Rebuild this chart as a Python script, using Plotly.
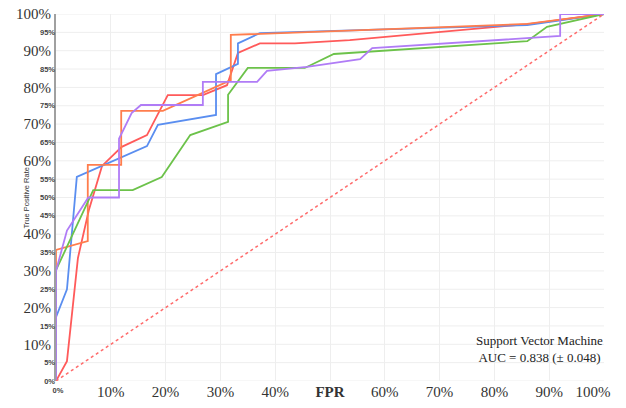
import plotly.graph_objects as go

# ---- data ----
blue_fpr = [0, 0, 0.020, 0.038, 0.166, 0.186, 0.292, 0.292, 0.332, 0.332, 0.372, 0.86, 1]
blue_tpr = [0, 0.174, 0.25, 0.556, 0.64, 0.698, 0.725, 0.836, 0.864, 0.92, 0.948, 0.97, 1]

green_fpr = [0, 0, 0.068, 0.14, 0.193, 0.245, 0.314, 0.314, 0.35, 0.454, 0.507, 0.86, 0.896, 1]
green_tpr = [0, 0.302, 0.52, 0.52, 0.556, 0.67, 0.706, 0.78, 0.853, 0.853, 0.891, 0.926, 0.965, 1]

red_fpr = [0, 0.02, 0.04, 0.06, 0.084, 0.12, 0.166, 0.204, 0.268, 0.312, 0.332, 0.372, 0.436, 0.536, 0.865, 1]
red_tpr = [0, 0.054, 0.335, 0.466, 0.586, 0.638, 0.67, 0.779, 0.779, 0.806, 0.894, 0.92, 0.92, 0.929, 0.973, 1]

orange_fpr = [0, 0, 0.058, 0.058, 0.119, 0.119, 0.195, 0.319, 0.319, 0.5, 0.86, 1]
orange_tpr = [0, 0.357, 0.381, 0.589, 0.589, 0.736, 0.736, 0.82, 0.943, 0.953, 0.973, 1]

purple_fpr = [0, 0, 0.02, 0.059, 0.115, 0.115, 0.138, 0.155, 0.268, 0.268, 0.367, 0.385, 0.458, 0.555, 0.577, 0.92, 0.92, 1]
purple_tpr = [0, 0.30, 0.41, 0.50, 0.50, 0.66, 0.73, 0.752, 0.752, 0.815, 0.815, 0.845, 0.856, 0.877, 0.907, 0.94, 1, 1]

chance_fpr = [0, 1]
chance_tpr = [0, 1]

# large tick labels
x_major_vals = [0.1, 0.2, 0.3, 0.4, 0.5, 0.6, 0.7, 0.8, 0.9]
x_major_labels = ["10%", "20%", "30%", "40%", "FPR", "60%", "70%", "80%", "90%"]
x_end_vals = [1.0]
x_end_labels = ["100%"]
y_major_vals = [0.1, 0.2, 0.3, 0.4, 0.6, 0.7, 0.8, 0.9, 1.0]
y_major_labels = ["10%", "20%", "30%", "40%", "60%", "70%", "80%", "90%", "100%"]
# small tick labels
x_minor_vals = [0.0]
x_minor_labels = ["0%"]
y_minor_vals = [0.0, 0.05, 0.15, 0.25, 0.35, 0.45, 0.5, 0.55, 0.65, 0.75, 0.85, 0.95]
y_minor_labels = ["0%", "5%", "15%", "25%", "35%", "45%", "50%", "55%", "65%", "75%", "85%", "95%"]
y_grid_vals = [i / 20 for i in range(21)]

model_name = "Support Vector Machine"
auc_text = "AUC = 0.838 (± 0.048)"
y_title = "True Positive Rate"

# ---- styling ----
SERIF = "Liberation Serif, Times New Roman, serif"
SANS = "Liberation Sans, Arial, sans-serif"
BIG = dict(family=SERIF, size=15, color="#333")
SMALL = dict(family=SANS, size=7.5, color="#444", weight="bold")

fig = go.Figure()

# diagonal drawn on the overlay axes so that they are rendered
fig.add_trace(go.Scatter(x=chance_fpr, y=chance_tpr, mode="lines", xaxis="x2", yaxis="y2",
                         line=dict(color="#ff6b6b", width=1.5, dash="dot"),
                         showlegend=False, hoverinfo="skip"))
fig.add_trace(go.Scatter(x=chance_fpr, y=chance_tpr, mode="lines", xaxis="x3", yaxis="y",
                         line=dict(color="rgba(0,0,0,0)", width=0),
                         showlegend=False, hoverinfo="skip"))
series = [
    (red_fpr, red_tpr, "#ff5a5a"),
    (blue_fpr, blue_tpr, "#5a8ef0"),
    (orange_fpr, orange_tpr, "#ff7d4d"),
    (green_fpr, green_tpr, "#6cc24a"),
    (purple_fpr, purple_tpr, "#b07cf6"),
]
for fx, fy, col in series:
    fig.add_trace(go.Scatter(x=fx, y=fy, mode="lines",
                             line=dict(color=col, width=1.8), showlegend=False))

common = dict(range=[0, 1], zeroline=False, ticks="", fixedrange=True,
              automargin=False, ticklabeloverflow="allow")

fig.update_layout(
    width=626, height=408,
    margin=dict(l=56, r=22, t=14, b=27),
    paper_bgcolor="white", plot_bgcolor="white",
    font=dict(family=SERIF, size=15, color="#333"),
    xaxis=dict(tickvals=x_major_vals,
               ticktext=["<b>FPR</b>" if l == "FPR" else l for l in x_major_labels],
               showgrid=True, gridcolor="#eeeeee", gridwidth=1, showline=False,
               tickfont=BIG, **common),
    xaxis2=dict(overlaying="x", anchor="y", side="bottom",
                tickvals=x_minor_vals, ticktext=x_minor_labels, showgrid=False,
                showline=False, tickfont=SMALL, ticklabelshift=2, ticklabelstandoff=3,
                **common),
    xaxis3=dict(overlaying="x", anchor="y", side="bottom",
                tickvals=x_end_vals, ticktext=x_end_labels, showgrid=True,
                gridcolor="#eeeeee", ticklabelshift=-11,
                showline=False, tickfont=BIG, **common),
    yaxis=dict(tickvals=y_major_vals, ticktext=y_major_labels,
               showgrid=False, showline=True, linecolor="#a0a0a0", linewidth=2,
               tickfont=BIG, **common),
    yaxis2=dict(overlaying="y", anchor="x", side="left",
                tickvals=y_minor_vals, ticktext=y_minor_labels, showgrid=False,
                showline=False, tickfont=SMALL, **common),
    annotations=[
        dict(text=model_name + "<br>" + auc_text, xref="paper", yref="paper",
             x=0.883, y=0.087, xanchor="center", yanchor="middle", showarrow=False,
             align="center", font=dict(size=13, color="#222", family=SERIF)),
        dict(text=y_title, xref="paper", yref="paper", x=-0.053, y=0.5,
             xanchor="center", yanchor="middle", textangle=-90, showarrow=False,
             font=dict(size=7.5, color="#333", family=SANS)),
    ],
)

# horizontal gridlines every 5%
for v in y_grid_vals:
    fig.add_hline(y=v, line=dict(color="#eeeeee", width=1), layer="below")

fig.write_html("out.html", config={"displayModeBar": False},
               post_script="document.body.style.margin='0';")
